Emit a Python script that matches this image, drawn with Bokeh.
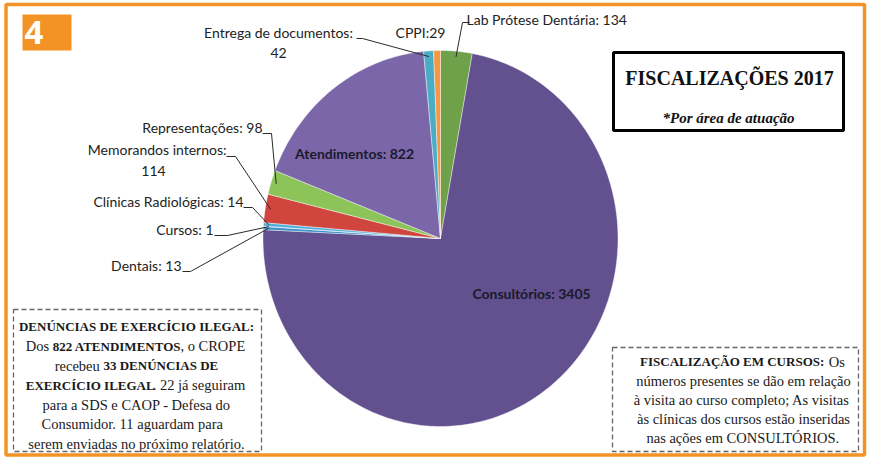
import math
import unicodedata
from bokeh.plotting import figure
from bokeh.models import Range1d
from bokeh.embed import file_html
from bokeh.resources import INLINE
from bokeh.core.properties import value

# ---------------- data ----------------
categories = ["Lab Prótese Dentária", "Consultórios", "Dentais", "Cursos",
              "Clínicas Radiológicas", "Memorandos internos", "Representações",
              "Atendimentos", "Entrega de documentos", "CPPI"]
counts = [134, 3405, 13, 1, 14, 114, 98, 822, 42, 29]
colors = ["#6FA04A", "#62508F", "#3F8FC8", "#2E6FB0", "#55AEDA", "#D0463F",
          "#8DC45A", "#7B66A9", "#4BACC6", "#F59845"]

title = "FISCALIZAÇÕES 2017"
subtitle = "*Por área de atuação"
badge = "4"
left_note = [
    [("DENÚNCIAS DE EXERCÍCIO ILEGAL:", True)],
    [("Dos ", False), ("822 ATENDIMENTOS", True), (", o CROPE", False)],
    [("recebeu ", False), ("33 DENÚNCIAS DE", True)],
    [("EXERCÍCIO ILEGAL", True), (". 22 já seguiram", False)],
    [("para a SDS e CAOP - Defesa do", False)],
    [("Consumidor.   11 aguardam para", False)],
    [("serem enviadas no próximo relatório.", False)],
]
right_note = [
    [("FISCALIZAÇÃO EM  CURSOS: ", True), ("Os", False)],
    [("números presentes se dão em relação", False)],
    [("à visita ao curso completo;  As visitas", False)],
    [("às clínicas dos cursos estão inseridas", False)],
    [("nas ações em CONSULTÓRIOS.", False)],
]

# ---------------- layout ----------------
W, H = 867, 457
p = figure(width=W, height=H, x_range=Range1d(0, W), y_range=Range1d(H, 0),
           output_backend="svg", toolbar_location=None, min_border=0,
           x_axis_type=None, y_axis_type=None)
p.grid.visible = False
p.outline_line_color = None
p.background_fill_color = "white"
p.border_fill_color = "white"

ORANGE = "#F39325"
# outer frame
p.quad(left=[5.5], right=[W - 3], top=[4], bottom=[H - 2.5], fill_color=None,
       line_color=ORANGE, line_width=3.5)
# badge
p.quad(left=[22], right=[71], top=[14], bottom=[50], fill_color=ORANGE, line_color=None)
p.text(x=[24], y=[32], text=[badge], text_font=value("Noto Sans"), text_font_style="bold",
       text_font_size="33px", text_color="white", text_align="left", text_baseline="middle")

# ---------------- pie (elliptical, as in the reference) ----------------
CX, CY, RX, RY = 440, 238, 177.5, 188
total = float(sum(counts))


def ell(t, f=1.0):
    return CX + f * RX * math.sin(t), CY - f * RY * math.cos(t)


xs, ys, mids = [], [], []
a = 0.0
for n in counts:
    span = 2 * math.pi * n / total
    steps = max(2, int(math.degrees(span)) + 2)
    px, py = [CX], [CY]
    for k in range(steps + 1):
        x, y = ell(a + span * k / steps)
        px.append(x)
        py.append(y)
    xs.append(px)
    ys.append(py)
    mids.append(a + span / 2)
    a += span

p.patches(xs, ys, fill_color=colors, line_color="white", line_width=0.6, line_alpha=0.7)

# ---------------- data labels ----------------
LBL_FONT = value("Lato")
LBL_COL = "#222222"
LBL_SIZE = "14px"
label_layout = {
    0: ([("full", 466, 19, "left")], [(469, 22), (462, 22)]),
    2: ([("full", 181, 265, "right")], [(182, 271), (190, 271)]),
    3: ([("full", 213, 229, "right")], [(214, 235), (227, 235)]),
    4: ([("full", 243, 201, "right")], [(243, 207), (252, 207)]),
    5: ([("name", 226, 149, "right"), ("num", 153, 170, "center")], [(226, 156), (235, 156)]),
    6: ([("full", 262, 127, "right")], [(262, 133), (271, 133)]),
    8: ([("name", 278, 32, "center"), ("num", 278, 52, "center")], [(356, 38), (362, 38)]),
    9: ([("tight", 420, 32, "center")], None),
}
inside_layout = {1: (531, 293), 7: (354, 153)}

lx, ly, lt, la = [], [], [], []
lead_x, lead_y = [], []
for i, (parts, lead) in label_layout.items():
    for kind, x, y, al in parts:
        if kind == "full":
            s = f"{categories[i]}: {counts[i]}"
        elif kind == "name":
            s = f"{categories[i]}:"
        elif kind == "num":
            s = f"{counts[i]}"
        else:
            s = f"{categories[i]}:{counts[i]}"
        lx.append(x); ly.append(y); lt.append(s); la.append(al)
    if lead:
        ex, ey = ell(mids[i], 0.97)
        lead_x.append([pt[0] for pt in lead] + [ex])
        lead_y.append([pt[1] for pt in lead] + [ey])

p.multi_line(lead_x, lead_y, line_color="#2a2a2a", line_width=1)
for al in ("left", "right", "center"):
    sel = [k for k in range(len(lt)) if la[k] == al]
    p.text(x=[lx[k] for k in sel], y=[ly[k] for k in sel], text=[lt[k] for k in sel],
           text_font=LBL_FONT, text_font_size=LBL_SIZE, text_color=LBL_COL,
           text_align=al, text_baseline="middle")

p.text(x=[v[0] for v in inside_layout.values()], y=[v[1] for v in inside_layout.values()],
       text=[f"{categories[i]}: {counts[i]}" for i in inside_layout],
       text_font=LBL_FONT, text_font_style="bold", text_font_size=LBL_SIZE,
       text_color="#1a1a2a", text_align="center", text_baseline="middle")

# ---------------- title box ----------------
p.quad(left=[613], right=[843], top=[52], bottom=[130], fill_color="white",
       line_color="black", line_width=3)
p.text(x=[729], y=[77], text=[title], text_font=value("Liberation Serif"),
       text_font_style="bold", text_font_size="20px", text_color="#111111",
       text_align="center", text_baseline="middle")
p.text(x=[728], y=[117], text=[subtitle], text_font=value("Liberation Serif"),
       text_font_style="bold italic", text_font_size="15px", text_color="#111111",
       text_align="center", text_baseline="middle")

# ---------------- notes (mixed bold / regular lines) ----------------
REG = dict(zip("abcdefghijklmnopqrstuvwxyz",
               [444, 500, 444, 500, 444, 333, 500, 500, 278, 278, 500, 278, 778, 500, 500, 500,
                500, 333, 389, 278, 500, 500, 722, 500, 500, 444]))
REG.update(zip("ABCDEFGHIJKLMNOPQRSTUVWXYZ",
               [722, 667, 667, 722, 611, 556, 722, 722, 333, 389, 722, 611, 889, 722, 722, 556,
                722, 667, 556, 611, 722, 722, 944, 722, 722, 611]))
REG.update({" ": 250, ",": 250, ".": 250, ":": 278, ";": 278, "-": 333})
BOLD = dict(zip("abcdefghijklmnopqrstuvwxyz",
                [500, 556, 444, 556, 444, 333, 500, 556, 278, 333, 556, 278, 833, 556, 500, 556,
                 556, 444, 389, 333, 556, 500, 722, 500, 500, 444]))
BOLD.update(zip("ABCDEFGHIJKLMNOPQRSTUVWXYZ",
                [722, 667, 722, 722, 667, 611, 778, 778, 389, 500, 778, 667, 944, 722, 778, 611,
                 778, 722, 556, 667, 722, 722, 1000, 722, 722, 667]))
BOLD.update({" ": 250, ",": 250, ".": 250, ":": 333, ";": 333, "-": 333})
SZ_B, SZ_R = 13.0, 14.5


def seg_w(s, bold):
    tbl = BOLD if bold else REG
    size = SZ_B if bold else SZ_R
    return sum(tbl.get(unicodedata.normalize("NFD", c)[0], 500) for c in s) * size / 1000.0


def draw_note(lines, cx, y0, dy):
    bx, by, bt, rx_, ry_, rt = [], [], [], [], [], []
    for j, segs in enumerate(lines):
        tw = sum(seg_w(s, b) for s, b in segs)
        x = cx - tw / 2
        y = y0 + j * dy
        for s, b in segs:
            if b:
                bx.append(x); by.append(y); bt.append(s)
            else:
                rx_.append(x); ry_.append(y); rt.append(s)
            x += seg_w(s, b) - (2.0 if b else 0.0)
    p.text(x=bx, y=by, text=bt, text_font=value("Liberation Serif"), text_font_style="bold",
           text_font_size=f"{SZ_B}px", text_color="#1a1a1a", text_align="left",
           text_baseline="middle")
    p.text(x=rx_, y=ry_, text=rt, text_font=value("Liberation Serif"),
           text_font_size=f"{SZ_R}px", text_color="#1a1a1a", text_align="left",
           text_baseline="middle")


p.quad(left=[13], right=[261], top=[309], bottom=[451], fill_color=None,
       line_color="#666666", line_width=1.3, line_dash="5 3")
draw_note(left_note, 136, 326, 19.5)

p.quad(left=[612], right=[858], top=[347], bottom=[451], fill_color=None,
       line_color="#666666", line_width=1.3, line_dash="5 3")
draw_note(right_note, 743, 361, 19.0)

open("out.html", "w").write(file_html(p, INLINE))
